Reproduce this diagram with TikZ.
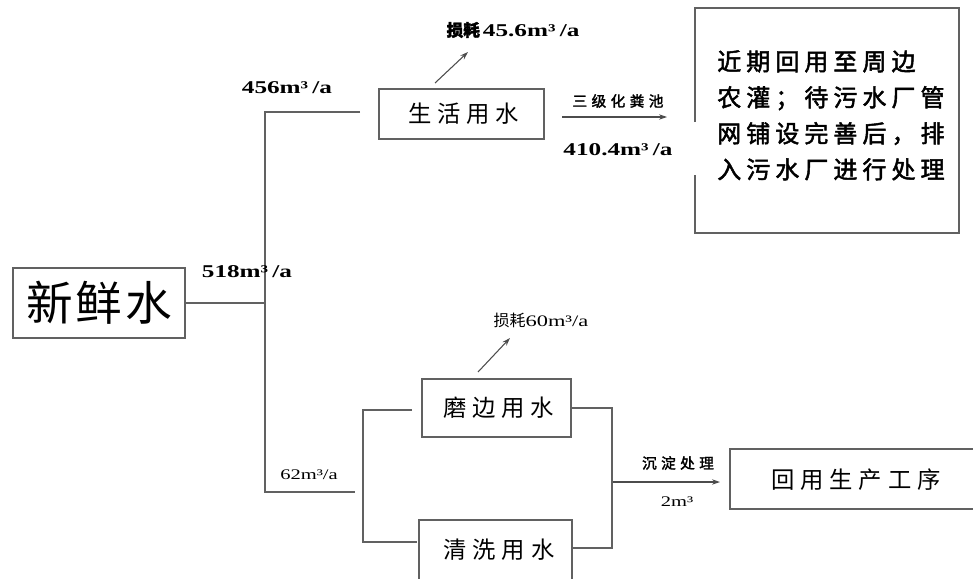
\documentclass[tikz,border=0pt]{standalone}
\usepackage{fontspec}
\usetikzlibrary{arrows.meta}
\newfontfamily\cjk{Noto Sans CJK SC}
\newfontfamily\cjkb{Noto Sans CJK SC}[FakeBold=2]
\newfontfamily\numf{Liberation Serif}
\newcommand{\wdr}[1]{\scalebox{1.4}[1]{#1}}
\tikzset{
  line/.style={draw=black!62, line width=1.2pt},
  box/.style={line, rectangle, inner sep=0pt},
  arr/.style={draw=black!70, line width=0.8pt, -{Stealth[length=6pt,width=4pt]}},
  num/.style={font=\numf\bfseries\fontsize{13.5pt}{15pt}\selectfont, inner sep=0pt},
  thin/.style={font=\numf\fontsize{11pt}{13pt}\selectfont, inner sep=0pt},
  big/.style={font=\cjk\fontsize{17.5pt}{20pt}\selectfont\addfontfeature{LetterSpace=25}, inner sep=0pt},
  small/.style={font=\cjkb\fontsize{11pt}{12pt}\selectfont\addfontfeature{LetterSpace=30}, inner sep=0pt},
}
\begin{document}
\begin{tikzpicture}[x=0.75pt,y=-0.75pt]
\useasboundingbox (0,0) rectangle (973,578);
% boxes
\node[box, minimum width=129pt, minimum height=52.5pt,
      font=\cjk\fontsize{35pt}{38pt}\selectfont\addfontfeature{LetterSpace=6}] (fresh) at (99,303) {新鲜水};
\node[box, minimum width=123.75pt, minimum height=37.5pt, big] (life) at (461.5,114) {\hspace{3pt}生活用水};
\node[box, minimum width=111.75pt, minimum height=43.5pt, big] (mobian) at (496.5,408) {\hspace{3pt}磨边用水};
\node[big] (qingxi) at (499,550) {清洗用水};
\node[big] (huiyong) at (856,480) {回用生产工序};
\node[anchor=north west, align=left, inner sep=0pt,
      font=\cjkb\fontsize{18pt}{27pt}\selectfont\addfontfeature{LetterSpace=21}] (note) at (717,50)
      {近期回用至周边\\农灌；待污水厂管\\网铺设完善后，排\\入污水厂进行处理};
% open boxes
\draw[line] (695,122) -- (695,8) -- (959,8) -- (959,233) -- (695,233) -- (695,175);
\draw[line] (419,580) -- (419,520) -- (572,520) -- (572,580);
\draw[line] (975,449) -- (730,449) -- (730,509) -- (975,509);
% coordinates
\coordinate (trunkTop) at (265,112);
\coordinate (trunkBot) at (265,492);
\coordinate (lifeIn) at (360,112);
\coordinate (botEnd) at (355,492);
\coordinate (splitT) at (363,410);
\coordinate (splitB) at (363,542);
\coordinate (mbIn) at (412,410);
\coordinate (qxIn) at (417,542);
\coordinate (mergeB) at (612,548);
\coordinate (qxOut) at (572,548);
\coordinate (outStart) at (613,482);
\coordinate (outEnd) at (720,482);
\coordinate (lifeOut) at (562,117);
\coordinate (noteIn) at (667,117);
\coordinate (loss1a) at (435,83);
\coordinate (loss1b) at (468,52);
\coordinate (loss2a) at (478,372);
\coordinate (loss2b) at (510,338);
% connectors
\draw[line] (fresh.east) -- (fresh.east -| trunkTop);
\draw[line] (lifeIn) -- (trunkTop) -- (trunkBot) -- (botEnd);
\draw[line] (mbIn) -- (splitT) -- (splitB) -- (qxIn);
\draw[line] (mobian.east) -- (mobian.east -| mergeB) -- (mergeB) -- (qxOut);
\draw[arr] (outStart) -- (outEnd);
\draw[arr] (lifeOut) -- (noteIn);
\draw[arr] (loss1a) -- (loss1b);
\draw[arr] (loss2a) -- (loss2b);
% labels
\node[num] (l456) at (287,88) {\wdr{456m³\,/a}};
\node[num] (l518) at (247,272) {\wdr{518m³\,/a}};
\node[num] (l456loss) at (513,30) {{\cjkb\fontsize{12.5pt}{14pt}\selectfont 损耗}\,\wdr{45.6m³\,/a}};
\node[num] (l410) at (618,150) {\wdr{410.4m³\,/a}};
\node[small] (lseptic) at (618,101) {三级化粪池};
\node[thin] (l60) at (541,320) {{\cjk\fontsize{12pt}{13pt}\selectfont 损耗}\wdr{\fontsize{12pt}{13pt}\selectfont 60m³/a}};
\node[thin] (l62) at (309,475) {\wdr{62m³/a}};
\node[small] (lsettle) at (678,463) {沉淀处理};
\node[thin] (l2) at (677,502) {\wdr{2m³}};
\end{tikzpicture}
\end{document}
